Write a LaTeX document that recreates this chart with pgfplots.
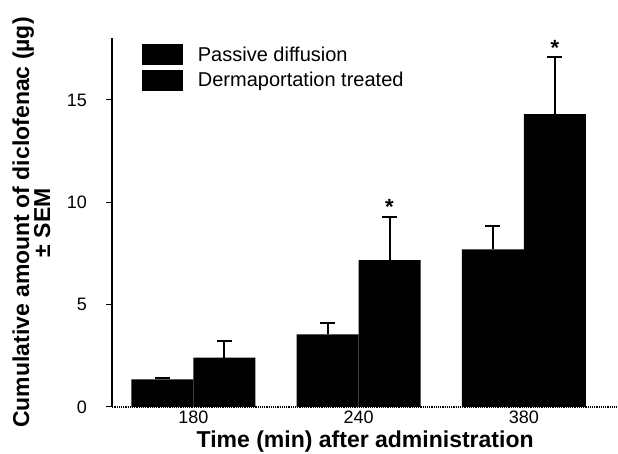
\documentclass[border=0pt]{standalone}
\usepackage{fontspec}
\setmainfont{Liberation Sans}
\usepackage{pgfplots}
\pgfplotsset{compat=1.18}

\begin{document}
\begin{tikzpicture}
\begin{axis}[
    scale only axis,
    width=505.7pt, height=368.7pt,
    ybar, bar width=0.375,
    xmin=-0.49, xmax=2.57,
    ymin=0, ymax=18.01,
    axis lines*=left,
    x axis line style={line width=1.2pt, densely dotted},
    y axis line style={line width=2.2pt},
    xtick={0,1,2}, xticklabels={180,240,380},
    ytick={0,5,10,15},
    tick align=outside,
    major tick length=6pt,
    xtick style={draw=none},
    ytick style={line width=1pt, black},
    /pgf/number format/assume math mode=true,
    ticklabel style={font=\fontsize{18}{18}\selectfont, inner sep=0pt},
    xticklabel style={yshift=2.5pt},
    yticklabel style={xshift=-19.3pt},
    xlabel={Time (min) after administration},
    xlabel style={font=\bfseries\fontsize{23}{23}\selectfont, at={(axis description cs:0.5,-0.1085)}, anchor=base},
    ylabel={Cumulative amount of diclofenac (µg)\\± SEM},
    ylabel style={align=center, font=\bfseries\fontsize{23}{21}\selectfont, at={(axis description cs:-0.1598,0.5)}, anchor=center},
    legend cell align=left,
    legend style={at={(axis description cs:0.0581,0.9845)}, anchor=north west, draw=none, fill=none,
        inner sep=0pt, row sep=4.7pt, font=\fontsize{20}{20}\selectfont, nodes={inner sep=0pt}},
]
\addplot[fill=black, draw=none, bar shift=-0.1875,
    legend image code/.code={\fill[black] (0pt,-10.5pt) rectangle (41pt,10.5pt); \path (56pt,0pt);},
    error bars/.cd, y dir=plus, y explicit,
    error bar style={line width=2pt, draw=black},
    error mark options={rotate=90, mark size=7.5pt, line width=2pt, draw=black}]
    coordinates {(0,1.35) +- (0,0.09) (1,3.55) +- (0,0.57) (2,7.70) +- (0,1.14)};
\addplot[fill=black, draw=none, bar shift=0.1875,
    legend image code/.code={\fill[black] (0pt,-10.5pt) rectangle (41pt,10.5pt); \path (56pt,0pt);},
    error bars/.cd, y dir=plus, y explicit,
    error bar style={line width=2pt, draw=black},
    error mark options={rotate=90, mark size=7.5pt, line width=2pt, draw=black}]
    coordinates {(0,2.41) +- (0,0.83) (1,7.18) +- (0,2.12) (2,14.30) +- (0,2.78)};
% significance stars sit on the top of the error bars
\addplot[draw=none, fill=none, bar shift=0.1875, forget plot,
    nodes near coords, point meta=explicit symbolic,
    every node near coord/.append style={font=\bfseries\fontsize{22}{22}\selectfont, anchor=base, inner sep=0pt, yshift=2pt, black}]
    coordinates {(1,9.30) [*] (2,17.08) [*]};
\legend{Passive diffusion, Dermaportation treated}
\end{axis}
\pgfresetboundingbox
\path[use as bounding box] ([xshift=-112.3pt,yshift=-47pt]current axis.south west) rectangle ([yshift=38.3pt]current axis.north east);
\end{tikzpicture}
\end{document}
